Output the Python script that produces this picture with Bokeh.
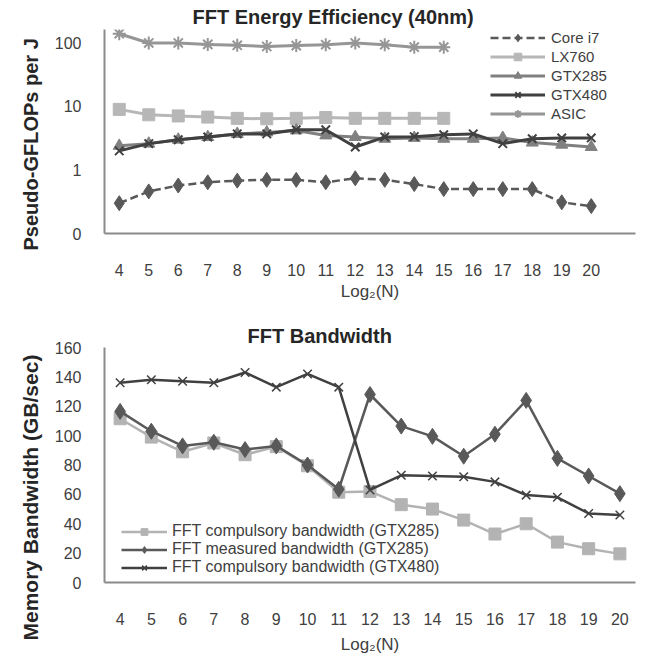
from bokeh.plotting import figure
from bokeh.models import FixedTicker, Range1d, Legend, LegendItem, Title
from bokeh.layouts import column
from bokeh.embed import file_html
from bokeh.resources import INLINE

# ---------------- data: FFT Energy Efficiency (40nm) ----------------
log2n = list(range(4, 21))
log2n_short = list(range(4, 16))
core_i7 = [0.30, 0.46, 0.57, 0.64, 0.68, 0.70, 0.70, 0.64, 0.74, 0.70, 0.60, 0.50, 0.50, 0.50, 0.50, 0.31, 0.27]
lx760 = [9.0, 7.4, 7.1, 6.8, 6.5, 6.4, 6.5, 6.7, 6.5, 6.5, 6.5, 6.5]
gtx285 = [2.4, 2.6, 3.0, 3.3, 3.7, 3.9, 4.2, 3.5, 3.3, 3.1, 3.2, 3.1, 3.1, 3.2, 2.7, 2.5, 2.3]
gtx480 = [2.0, 2.6, 3.0, 3.3, 3.7, 3.7, 4.3, 4.3, 2.3, 3.3, 3.35, 3.6, 3.7, 2.6, 3.1, 3.2, 3.2]
asic = [140, 100, 100, 95, 92, 88, 91, 94, 100, 94, 86, 86]
eff_ticks = [0.1, 1, 10, 100]
eff_tick_labels = ["0", "1", "10", "100"]

# ---------------- data: FFT Bandwidth ----------------
comp285 = [111.5, 99, 89, 95, 87, 92.5, 79.5, 61.5, 62, 53, 50, 42.5, 33, 40, 27.5, 23, 19.5]
meas285 = [116.5, 103, 93, 95.5, 90.5, 93, 80, 63.5, 128, 106.5, 99.5, 86, 101, 124, 84.5, 72.5, 60.5]
comp480 = [136, 138, 137, 136, 143, 133, 142, 133, 63, 73, 72.5, 72, 68.5, 59.5, 58, 47, 46]
bw_ticks = [0, 20, 40, 60, 80, 100, 120, 140, 160]

FONT = "Liberation Sans"
TXT = "#404040"
AX = "#8a8a8a"


def style(p):
    p.xgrid.visible = False
    p.ygrid.visible = False
    p.outline_line_color = None
    p.background_fill_color = "white"
    p.border_fill_color = "white"
    for ax in p.axis:
        ax.axis_line_color = AX
        ax.axis_line_width = 2
        ax.major_tick_line_color = None
        ax.minor_tick_line_color = None
        ax.major_label_text_font = FONT
        ax.major_label_text_font_size = "16px"
        ax.major_label_text_color = TXT
        ax.axis_label_text_font = FONT
    p.xaxis.ticker = FixedTicker(ticks=log2n, minor_ticks=[])
    p.xaxis.major_label_standoff = 24
    p.xaxis.axis_label = "Log\u2082(N)"
    p.xaxis.axis_label_text_font_style = "normal"
    p.xaxis.axis_label_text_font_size = "17px"
    p.xaxis.axis_label_text_color = TXT
    p.yaxis.major_label_standoff = 17
    p.title.text_font = FONT
    p.title.text_font_style = "bold"
    p.title.text_font_size = "20px"
    p.title.text_color = "#262626"
    p.title.align = "left"


def ylabel(p, text, offset, size, standoff):
    p.add_layout(Title(text=text, align="left", offset=offset, standoff=standoff,
                       text_font=FONT, text_font_style="bold", text_font_size=size,
                       text_color="#262626"), "left")


# ---------------- top figure ----------------
p1 = figure(width=646, height=315, x_range=Range1d(3.5, 21.5), y_range=Range1d(0.1, 163),
            y_axis_type="log", output_backend="svg", toolbar_location=None,
            min_border_left=97, min_border_right=11, min_border_top=29, min_border_bottom=82,
            title="FFT Energy Efficiency (40nm)")
style(p1)
p1.title.offset = 88
p1.title.standoff = 4
p1.xaxis.axis_label_standoff = 3
p1.yaxis.ticker = FixedTicker(ticks=eff_ticks, minor_ticks=[])
p1.yaxis.major_label_overrides = {t: l for t, l in zip(eff_ticks, eff_tick_labels)}
ylabel(p1, "Pseudo-GFLOPs per J", -17, "20px", 20)

c_i7, c_lx, c_285, c_480, c_asic = "#595959", "#b7b7b7", "#808080", "#404040", "#969696"
l1 = p1.line(log2n, core_i7, line_color=c_i7, line_width=2.5, line_dash="8 4")
s1 = p1.scatter(log2n, core_i7, marker="diamond", size=15, fill_color=c_i7, line_color=c_i7)
l2 = p1.line(log2n_short, lx760, line_color=c_lx, line_width=3)
s2 = p1.scatter(log2n_short, lx760, marker="square", size=12, fill_color=c_lx, line_color=c_lx)
l3 = p1.line(log2n, gtx285, line_color=c_285, line_width=3)
s3 = p1.scatter(log2n, gtx285, marker="triangle", size=12, fill_color=c_285, line_color=c_285)
l4 = p1.line(log2n, gtx480, line_color=c_480, line_width=3)
s4 = p1.scatter(log2n, gtx480, marker="x", size=12, line_color=c_480, line_width=2)
l5 = p1.line(log2n_short, asic, line_color=c_asic, line_width=3)
s5 = p1.scatter(log2n_short, asic, marker="asterisk", size=13, line_color=c_asic, line_width=2)

leg1 = Legend(items=[
    LegendItem(label="Core i7", renderers=[l1, s1]),
    LegendItem(label="LX760", renderers=[l2, s2]),
    LegendItem(label="GTX285", renderers=[l3, s3]),
    LegendItem(label="GTX480", renderers=[l4, s4]),
    LegendItem(label="ASIC", renderers=[l5, s5]),
], location=(386, 110), glyph_width=55, glyph_height=19, label_height=19, spacing=0,
    padding=0, margin=0, label_standoff=6, label_text_font=FONT, label_text_font_size="15px",
    label_text_color=TXT, background_fill_alpha=0, border_line_alpha=0)
p1.add_layout(leg1)

# ---------------- bottom figure ----------------
p2 = figure(width=646, height=345, x_range=Range1d(3.5, 20.5), y_range=Range1d(0, 160),
            output_backend="svg", toolbar_location=None,
            min_border_left=104, min_border_right=11, min_border_top=32, min_border_bottom=78,
            title="FFT Bandwidth")
style(p2)
p2.title.offset = 143
p2.title.standoff = 1
p2.xaxis.axis_label_standoff = 7
p2.yaxis.ticker = FixedTicker(ticks=bw_ticks, minor_ticks=[])
ylabel(p2, "Memory Bandwidth (GB/sec)", -58, "21px", 20)

c_c285, c_m285, c_c480 = "#b3b3b3", "#595959", "#404040"
m1 = p2.line(log2n, comp285, line_color=c_c285, line_width=2.5)
n1 = p2.scatter(log2n, comp285, marker="square", size=12, fill_color=c_c285, line_color=c_c285)
m2 = p2.line(log2n, meas285, line_color=c_m285, line_width=2.5)
n2 = p2.scatter(log2n, meas285, marker="diamond", size=16, fill_color=c_m285, line_color=c_m285)
m3 = p2.line(log2n, comp480, line_color=c_c480, line_width=2.5)
n3 = p2.scatter(log2n, comp480, marker="x", size=12, line_color=c_c480, line_width=1.5)

leg2 = Legend(items=[
    LegendItem(label="FFT compulsory bandwidth (GTX285)", renderers=[m1, n1]),
    LegendItem(label="FFT measured bandwidth (GTX285)", renderers=[m2, n2]),
    LegendItem(label="FFT compulsory bandwidth (GTX480)", renderers=[m3, n3]),
], location=(17, 6), glyph_width=46, glyph_height=17, label_height=17, spacing=0,
    padding=0, margin=0, label_standoff=5, label_text_font=FONT, label_text_font_size="16px",
    label_text_color=TXT, background_fill_alpha=0, border_line_alpha=0)
p2.add_layout(leg2)

layout = column(p1, p2, spacing=0)
open("out.html", "w").write(file_html(layout, INLINE))
